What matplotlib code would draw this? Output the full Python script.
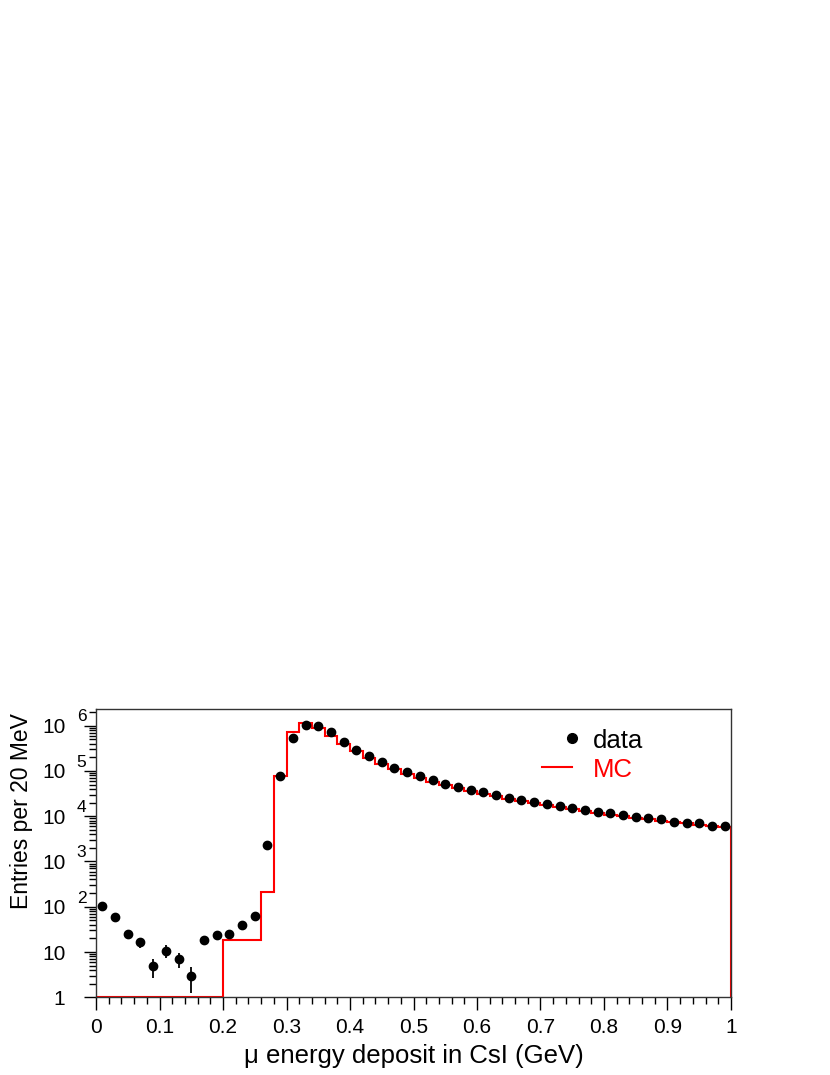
import numpy as np
import matplotlib
matplotlib.use("Agg")
import matplotlib.pyplot as plt
from matplotlib.ticker import MultipleLocator, LogLocator, NullFormatter, FixedLocator
from matplotlib.transforms import blended_transform_factory, ScaledTranslation

# Bin edges: 50 bins of 20 MeV from 0 to 1 GeV
BIN_EDGES = np.round(np.arange(0.0, 1.0001, 0.02), 3)

# Data (entries per bin)
DATA = [
    104, 59, 24.6, 16.3, 4.8, 10.7, 7.0, 2.95, 18.4, 23.4,
    25, 40, 63, 2265, 77700, 522000, 1.04e6, 1.0e6, 7.1e5, 4.4e5,
    2.96e5, 2.1e5, 1.55e5, 1.17e5, 9.4e4, 7.6e4, 6.3e4, 5.1e4, 4.45e4, 3.83e4,
    3.37e4, 2.93e4, 2.57e4, 2.31e4, 2.04e4, 1.85e4, 1.67e4, 1.51e4, 1.35e4, 1.21e4,
    1.15e4, 1.05e4, 9.7e3, 8.9e3, 8.5e3, 7.6e3, 7.1e3, 7.1e3, 6.1e3, 6.0e3,
]

# MC histogram (entries per bin)
MC = [
    0, 0, 0, 0, 0, 0, 0, 0, 0, 0,
    18, 18, 18, 208, 7.6e4, 7.1e5, 1.17e6, 9.1e5, 5.9e5, 3.9e5,
    2.7e5, 1.9e5, 1.42e5, 1.08e5, 8.6e4, 7.0e4, 5.8e4, 4.8e4, 4.1e4, 3.6e4,
    3.15e4, 2.75e4, 2.42e4, 2.15e4, 1.92e4, 1.73e4, 1.57e4, 1.42e4, 1.29e4, 1.17e4,
    1.08e4, 9.9e3, 9.2e3, 8.5e3, 7.9e3, 7.4e3, 6.9e3, 6.5e3, 6.1e3, 5.8e3,
]

Y_TICKS = [1, 10, 1e2, 1e3, 1e4, 1e5, 1e6]
Y_TICK_LABELS = ["1", "10", "10", "10", "10", "10", "10"]
Y_EXPONENTS = ["", "", "2", "3", "4", "5", "6"]
X_TICKS = [0, 0.1, 0.2, 0.3, 0.4, 0.5, 0.6, 0.7, 0.8, 0.9, 1.0]
X_TICK_LABELS = ["0", "0.1", "0.2", "0.3", "0.4", "0.5", "0.6", "0.7", "0.8", "0.9", "1"]

plt.rcParams.update({
    "font.family": ["Liberation Sans", "DejaVu Sans"],
})

fig = plt.figure(figsize=(8.3, 10.75), dpi=100)
ax = fig.add_axes([0.1157, 0.0723, 0.765, 0.2679])

data = np.array(DATA, dtype=float)
mc = np.array(MC, dtype=float)
centers = 0.5 * (BIN_EDGES[:-1] + BIN_EDGES[1:])

ymin, ymax = 1.0, 2.3e6

# MC histogram; empty bins sit on the bottom of the log axis
ax.stairs(np.clip(mc, ymin, None), BIN_EDGES, baseline=ymin, color="#ff0000",
          linewidth=1.5, zorder=2)

# data points with Poisson errors
ax.errorbar(centers, data, yerr=np.sqrt(data), fmt="o", color="black",
            markersize=6, elinewidth=1.3, capsize=0, zorder=3)

ax.set_yscale("log")
ax.set_xlim(0, 1)
ax.set_ylim(ymin, ymax)

ax.set_xticks(X_TICKS)
ax.set_xticklabels(X_TICK_LABELS)
ax.xaxis.set_minor_locator(MultipleLocator(0.02))

ax.yaxis.set_major_locator(FixedLocator(Y_TICKS))
ax.set_yticklabels(Y_TICK_LABELS)
ax.yaxis.set_minor_locator(LogLocator(base=10, subs=np.arange(2, 10), numticks=20))
ax.yaxis.set_minor_formatter(NullFormatter())

ax.tick_params(axis="both", which="major", direction="out", length=9, width=1,
               top=False, right=False, color="black")
ax.tick_params(axis="both", which="minor", direction="out", length=5, width=1,
               top=False, right=False, color="black")
ax.tick_params(axis="x", which="major", pad=6, labelsize=15)
ax.tick_params(axis="y", which="major", pad=13, labelsize=15)

# ROOT-style exponents beside the "10" tick labels
exp_trans = blended_transform_factory(ax.transAxes, ax.transData) + \
    ScaledTranslation(0, 3 / 72, fig.dpi_scale_trans)
for val, exp in zip(Y_TICKS, Y_EXPONENTS):
    if exp:
        ax.text(-0.0304, val, exp, transform=exp_trans, fontsize=12.5,
                ha="left", va="baseline", clip_on=False)

for spine in ax.spines.values():
    spine.set_linewidth(1.0)
    spine.set_color("#333333")

ax.set_xlabel("\u03bc energy deposit in CsI (GeV)", fontsize=18.5, va="baseline")
ax.xaxis.set_label_coords(0.5, -0.228)
ax.set_ylabel("Entries per 20 MeV", fontsize=16.5, loc="top")
ax.yaxis.set_label_coords(-0.099, 0.987)

# legend drawn in axes coordinates
ax.plot([0.749], [0.899], "o", color="black", markersize=7, transform=ax.transAxes,
        clip_on=False)
ax.plot([0.702, 0.749], [0.799, 0.799], color="#ff0000", linewidth=1.5,
        transform=ax.transAxes)
ax.text(0.7827, 0.8646, "data", transform=ax.transAxes, fontsize=18.5,
        va="baseline", ha="left", color="black")
ax.text(0.7827, 0.764, "MC", transform=ax.transAxes, fontsize=18.5,
        va="baseline", ha="left", color="#ff0000")

fig.savefig("out.png", dpi=100)
